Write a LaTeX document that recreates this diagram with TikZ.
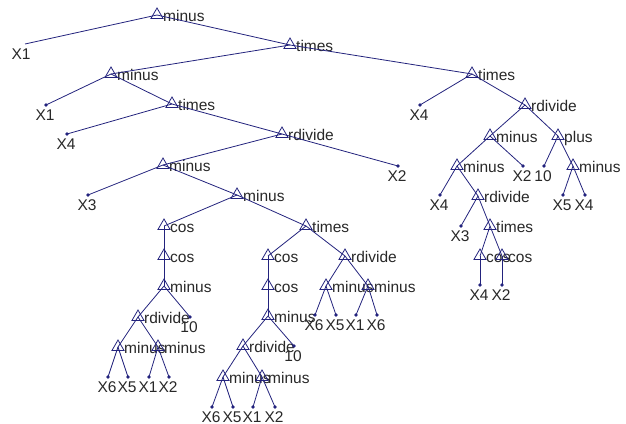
\documentclass[tikz,border=0pt]{standalone}
\usepackage{fontspec}
\setmainfont{Liberation Sans}
\usepackage{tikz}
\usetikzlibrary{shapes.geometric}

\definecolor{treeblue}{RGB}{35,35,125}
\definecolor{treetext}{RGB}{40,40,40}

\begin{document}
\begin{tikzpicture}[x=1pt, y=-1pt,
    edge/.style={treeblue, line width=0.8pt},
    optri/.style={regular polygon, regular polygon sides=3, draw=treeblue,
      line width=0.8pt, minimum size=14pt, inner sep=0pt},
    optxt/.style={anchor=base west, inner sep=0pt, text=treetext,
      font=\fontsize{15.5}{18}\selectfont},
    leaftxt/.style={inner sep=0pt, text=treetext,
      font=\fontsize{15.5}{18}\selectfont},
    dot/.style={fill=treeblue}]
    \useasboundingbox (0,0) rectangle (626,423);

    % operator nodes: triangle and its name
    \foreach \n/\x/\y/\t in {
      m0/157/15/minus, t1/290/45/times, m2/111/74/minus, t3/172/104/times,
      r4/282/134/rdivide, m5/163/165/minus, m6/237/195/minus,
      c7/164/226/cos, c8/164/256/cos, m9/164/286/minus, r10/138/317/rdivide,
      m11/118/347/minus, m12/158/347/minus,
      t13/306/226/times, c14/268/256/cos, c15/268/286/cos, m16/268/316/minus,
      r17/243/346/rdivide, m18/223/377/minus, m19/262/377/minus,
      r20/345/256/rdivide, m21/326/286/minus, m22/368/286/minus,
      t23/472/74/times, r24/525/105/rdivide, m25/490/136/minus, p26/558/136/plus,
      m27/457/166/minus, m28/573/166/minus, r29/478/196/rdivide,
      t30/490/226/times, c31/480/256/cos, c32/502/256/cos}
    {
      \node[optri] (\n) at (\x,\y) {};
      \node[optxt] (\n t) at (\x+6,\y+6) {\t};
    }

    % leaves: dot and its name
    \foreach \n/\x/\y/\t in {
      xb/46/105/X1, xc/67/134/X4, xd/398/166/X2, xe/88/195/X3,
      ta/190/317/10, xf/108/377/X6, xg/128/377/X5, xh/149/377/X1, xi/169/377/X2,
      tb/294/346/10, xj/212/407/X6, xk/233/407/X5, xl/253/407/X1, xm/275/407/X2,
      xn/315/315/X6, xo/336/315/X5, xp/356/315/X1, xq/377/315/X6,
      xr/420/105/X4, xs/523/166/X2, tc/544/166/10, xt/440/195/X4,
      xu/461/226/X3, xv/563/195/X5, xw/585/195/X4, xx/480/285/X4, xy/502/285/X2}
    {
      \coordinate (\n) at (\x,\y);
      \fill[dot] (\n) circle (1.8);
      \node[leaftxt] (\n t) at (\x-1,\y+10) {\t};
    }

    % the first X1 has no dot
    \coordinate (xa) at (25,44);
    \node[leaftxt] (xat) at (21,54) {X1};

    % draw edges
    \foreach \a/\b in {m0/xa, m0/t1, t1/m2, t1/t23, m2/xb, m2/t3, t3/xc, t3/r4,
      r4/m5, r4/xd, m5/xe, m5/m6, m6/c7, m6/t13, c7/c8, c8/m9, m9/r10, m9/ta,
      r10/m11, r10/m12, m11/xf, m11/xg, m12/xh, m12/xi,
      t13/c14, t13/r20, c14/c15, c15/m16, m16/r17, m16/tb, r17/m18, r17/m19,
      m18/xj, m18/xk, m19/xl, m19/xm, r20/m21, r20/m22,
      m21/xn, m21/xo, m22/xp, m22/xq,
      t23/xr, t23/r24, r24/m25, r24/p26, m25/m27, m25/xs, p26/tc, p26/m28,
      m27/xt, m27/r29, r29/xu, r29/t30, t30/c31, t30/c32, c31/xx, c32/xy,
      m28/xv, m28/xw}
      \draw[edge] (\a.center) -- (\b.center);
\end{tikzpicture}
\end{document}
